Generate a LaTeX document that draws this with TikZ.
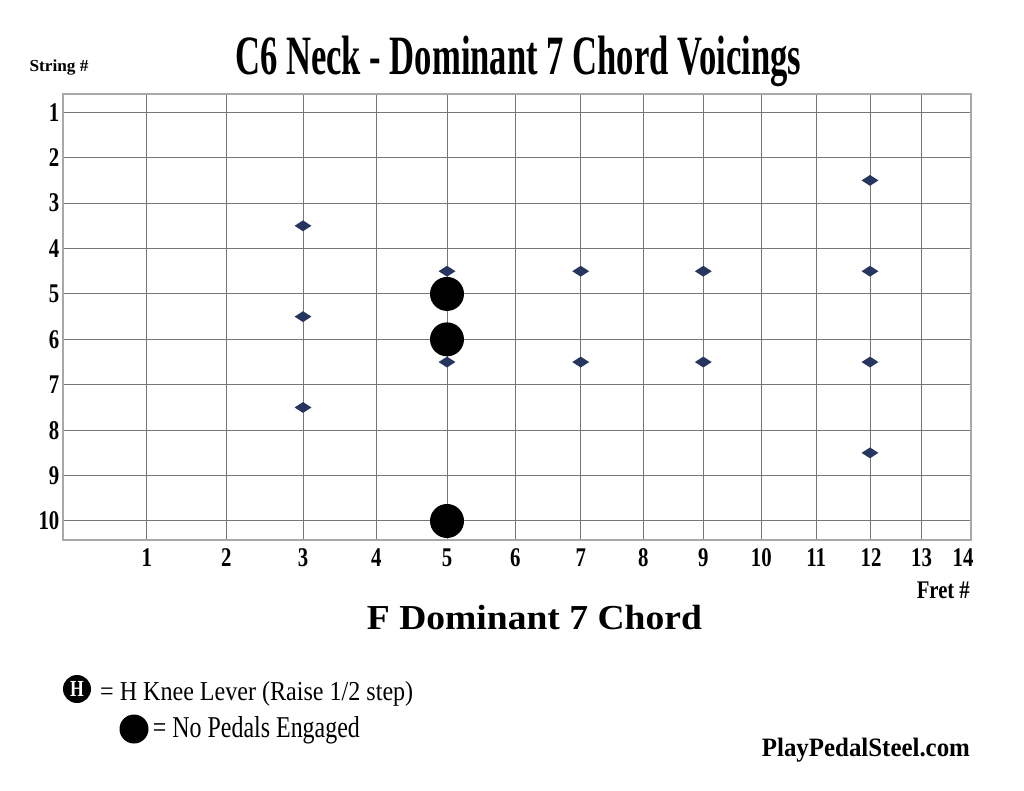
\documentclass[tikz,border=0pt]{standalone}
\usepackage{graphicx}
\usepackage{fontspec}
\setmainfont{Liberation Serif}
\newfontfamily\condbf{Liberation Serif}[FakeStretch=0.77]
\usetikzlibrary{shapes.geometric}
\definecolor{gridgray}{HTML}{767676}
\definecolor{bordergray}{HTML}{A8A8A8}
\definecolor{navy}{HTML}{27365E}
\newcommand{\sy}[1]{112.3+45.41*(#1-1)}
\begin{document}
\begin{tikzpicture}[x=1pt,y=-1pt,
  gridline/.style={draw=gridgray, line width=1pt},
  borderline/.style={draw=bordergray, line width=1.5pt},
  numlbl/.style={font=\condbf\bfseries\fontsize{27}{30}\selectfont, inner sep=0pt},
  txt/.style={inner sep=0pt},
  dia/.style={diamond, fill=navy, draw=none, inner sep=0pt, minimum width=17pt, minimum height=11pt},
  bigdot/.style={circle, fill=black, draw=none, inner sep=0pt, minimum size=34pt}]
\useasboundingbox (0,0) rectangle (1024,791);
\fill[white] (0,0) rectangle (1024,791);
% grid
\foreach \x in {146.7,226.3,303,376.3,447,515.3,580.7,643.3,703.3,761.3,816.3,870,921}
  \draw[gridline] (\x,94) -- (\x,540);
\foreach \n in {1,...,10}
  \draw[gridline] (63,{\sy{\n}}) -- (971,{\sy{\n}});
\draw[borderline] (63,94) rectangle (971,540);
% string labels
\foreach \n in {1,...,10}
  \node[numlbl, anchor=east] (s\n) at (59.5,{\sy{\n}}) {\n};
% fret labels
\foreach \x/\t in {146.7/1,226.3/2,303/3,376.3/4,447/5,515.3/6,580.7/7,643.3/8,703.3/9,761.3/10,816.3/11,871/12,921.5/13,963/14}
  \node[numlbl] (f\t) at (\x,557.5) {\t};
% diamonds
\node[dia] (d1) at (303,{\sy{3.5}}) {};
\node[dia] (d2) at (303,{\sy{5.5}}) {};
\node[dia] (d3) at (303,{\sy{7.5}}) {};
\node[dia] (d4) at (447,{\sy{4.5}}) {};
\node[dia] (d5) at (447,{\sy{6.5}}) {};
\node[dia] (d6) at (580.7,{\sy{4.5}}) {};
\node[dia] (d7) at (580.7,{\sy{6.5}}) {};
\node[dia] (d8) at (703.3,{\sy{4.5}}) {};
\node[dia] (d9) at (703.3,{\sy{6.5}}) {};
\node[dia] (d10) at (870,{\sy{2.5}}) {};
\node[dia] (d11) at (870,{\sy{4.5}}) {};
\node[dia] (d12) at (870,{\sy{6.5}}) {};
\node[dia] (d13) at (870,{\sy{8.5}}) {};
% big dots
\node[bigdot] (b1) at (447,{\sy{5}}) {};
\node[bigdot] (b2) at (447,{\sy{6}}) {};
\node[bigdot] (b3) at (447,{\sy{10}}) {};
% texts
\node[txt, anchor=base west] (title) at (235,75) {\resizebox{566pt}{38.5pt}{\bfseries C6 Neck - Dominant 7 Chord Voicings}};
\node[txt, anchor=base west] (stringlbl) at (29.3,71.7) {\resizebox{59pt}{11.7pt}{\bfseries String \#}};
\node[txt, anchor=base east] (fretlbl) at (970,598.3) {\resizebox{53pt}{16.6pt}{\bfseries Fret \#}};
\node[txt, anchor=base west] (chord) at (366.7,629.3) {\resizebox{335pt}{24.3pt}{\bfseries F Dominant 7 Chord}};
\node[txt, anchor=base west] (site) at (761.7,756.7) {\resizebox{208pt}{18.4pt}{\bfseries PlayPedalSteel.com}};
% legend
\node[circle, fill=black, inner sep=0pt, minimum size=28pt, text=white, font=\condbf\bfseries\fontsize{23}{23}\selectfont] (hkey) at (77,689) {H};
\node[txt, anchor=base west] (l1) at (100,700) {\resizebox{313pt}{19pt}{= H Knee Lever (Raise 1/2 step)}};
\node[circle, fill=black, inner sep=0pt, minimum size=29pt] (nkey) at (134,729) {};
\node[txt, anchor=base west] (l2) at (152.7,737.3) {\resizebox{207pt}{21pt}{= No Pedals Engaged}};
\end{tikzpicture}
\end{document}
